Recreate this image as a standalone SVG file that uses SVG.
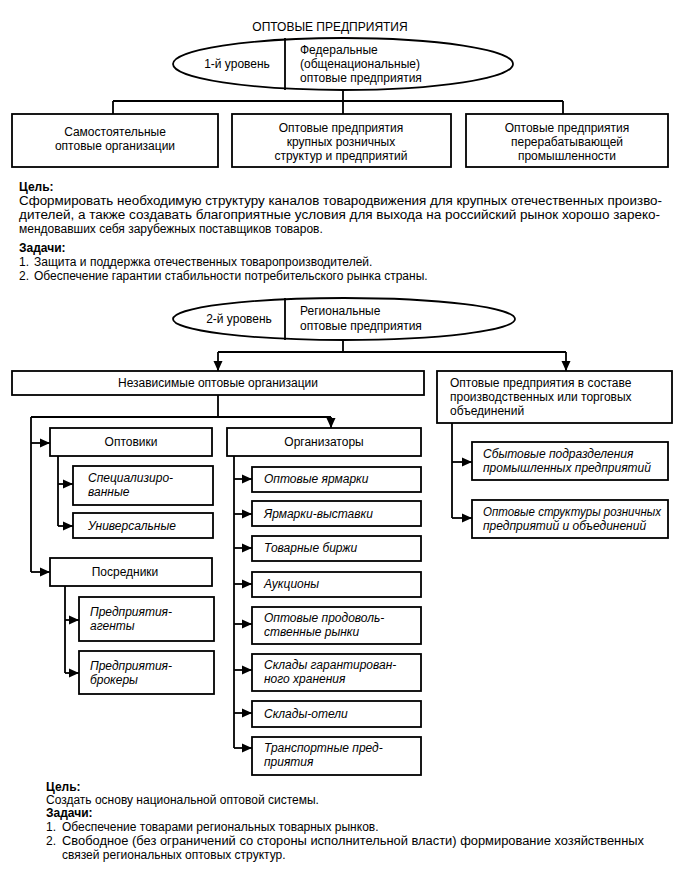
<svg xmlns="http://www.w3.org/2000/svg" width="688" height="872" viewBox="0 0 688 872">
<defs>
<style>
text{font-family:"Liberation Sans",Arial,sans-serif;font-size:12px;fill:#000}
.c{text-anchor:middle}
.i{font-style:italic}
.b{font-weight:bold}
.box{fill:#fff;stroke:#000;stroke-width:1.8}
.ell{fill:#fff;stroke:#000;stroke-width:1.8}
.ln{fill:none;stroke:#000;stroke-width:1.8}
.ar{fill:none;stroke:#000;stroke-width:1.8;marker-end:url(#ah)}
</style>
<marker id="ah" markerUnits="userSpaceOnUse" markerWidth="10" markerHeight="10" viewBox="0 0 10 10" refX="10" refY="5" orient="auto">
<path d="M0,0.5 L10,5 L0,9.5 Z" fill="#000"/>
</marker>
</defs>
<rect width="688" height="872" fill="#fff"/>

<text class="c" x="330" y="31">ОПТОВЫЕ ПРЕДПРИЯТИЯ</text>

<g id="connectors">
<path class="ln" d="M343,90 V101 M113,101 H563 M113,101 V114 M343,101 V114 M563,101 V114"/>
<path class="ln" d="M343,340 V352 M218,352 H566"/>
<path class="ar" d="M218,352 V371"/>
<path class="ar" d="M566,352 V371"/>
<path class="ln" d="M218,395 V417 M31,417 H331 M31,417 V572"/>
<path class="ar" d="M331,417 V428"/>
<path class="ar" d="M31,443 H50"/>
<path class="ar" d="M31,572 H50"/>
<path class="ln" d="M58,456 V526"/>
<path class="ar" d="M58,484 H73"/>
<path class="ar" d="M58,526 H73"/>
<path class="ln" d="M65,586 V673"/>
<path class="ar" d="M65,620 H79"/>
<path class="ar" d="M65,673 H79"/>
<path class="ln" d="M234,456 V748"/>
<path class="ar" d="M234,479 H252"/>
<path class="ar" d="M234,514 H252"/>
<path class="ar" d="M234,548 H252"/>
<path class="ar" d="M234,584 H252"/>
<path class="ar" d="M234,624 H252"/>
<path class="ar" d="M234,670 H252"/>
<path class="ar" d="M234,713 H252"/>
<path class="ar" d="M234,748 H252"/>
<path class="ln" d="M452,423 V518"/>
<path class="ar" d="M452,462 H472"/>
<path class="ar" d="M452,518 H472"/>
</g>

<g id="level1">
<ellipse class="ell" cx="343" cy="64" rx="170" ry="26"/>
<line class="ln" x1="285" y1="38" x2="285" y2="90"/>
<text class="c" x="237" y="68">1-й уровень</text>
<text x="300" y="54">Федеральные</text>
<text x="300" y="68">(общенациональные)</text>
<text x="300" y="82">оптовые предприятия</text>
</g>

<g id="box-samost">
<rect class="box" x="12" y="114" width="206" height="53"/>
<text class="c" x="115" y="136">Самостоятельные</text>
<text class="c" x="115" y="150">оптовые организации</text>
</g>
<g id="box-krupnyh">
<rect class="box" x="232" y="114" width="219" height="53"/>
<text class="c" x="341" y="132">Оптовые предприятия</text>
<text class="c" x="341" y="146">крупных розничных</text>
<text class="c" x="341" y="160">структур и предприятий</text>
</g>
<g id="box-pererab">
<rect class="box" x="466" y="114" width="202" height="53"/>
<text class="c" x="567" y="132">Оптовые предприятия</text>
<text class="c" x="567" y="146">перерабатывающей</text>
<text class="c" x="567" y="160">промышленности</text>
</g>

<g id="goals1">
<text class="b" x="19" y="191">Цель:</text>
<text x="19" y="205" textLength="643" lengthAdjust="spacingAndGlyphs">Сформировать необходимую структуру каналов товародвижения для крупных отечественных произво-</text>
<text x="19" y="219" textLength="641" lengthAdjust="spacingAndGlyphs">дителей, а также создавать благоприятные условия для выхода на российский рынок хорошо зареко-</text>
<text x="19" y="233">мендовавших себя зарубежных поставщиков товаров.</text>
<text class="b" x="19" y="252">Задачи:</text>
<text x="19" y="266">1.</text><text x="34" y="266">Защита и поддержка отечественных товаропроизводителей.</text>
<text x="19" y="280">2.</text><text x="34" y="280">Обеспечение гарантии стабильности потребительского рынка страны.</text>
</g>

<g id="level2">
<ellipse class="ell" cx="344" cy="319" rx="171" ry="21"/>
<line class="ln" x1="285" y1="298" x2="285" y2="340"/>
<text class="c" x="239" y="323">2-й уровень</text>
<text x="300" y="315">Региональные</text>
<text x="300" y="330">оптовые предприятия</text>
</g>

<g id="box-nezav">
<rect class="box" x="12" y="371" width="412" height="24"/>
<text class="c" x="218" y="387">Независимые оптовые организации</text>
</g>
<g id="box-vsostave">
<rect class="box" x="437" y="371" width="235" height="52"/>
<text x="450" y="387">Оптовые предприятия в составе</text>
<text x="450" y="401">производственных или торговых</text>
<text x="450" y="415">объединений</text>
</g>

<g id="box-optoviki">
<rect class="box" x="50" y="428" width="162" height="28"/>
<text class="c" x="131" y="446">Оптовики</text>
</g>
<g id="box-organizatory">
<rect class="box" x="227" y="428" width="194" height="28"/>
<text class="c" x="324" y="446">Организаторы</text>
</g>
<g id="box-spec">
<rect class="box" x="73" y="466" width="140" height="39"/>
<text class="i" x="88" y="482">Специализиро-</text>
<text class="i" x="88" y="496">ванные</text>
</g>
<g id="box-univ">
<rect class="box" x="73" y="513" width="140" height="25"/>
<text class="i" x="88" y="530">Универсальные</text>
</g>
<g id="box-posredniki">
<rect class="box" x="50" y="558" width="162" height="28"/>
<text class="c" x="125" y="576">Посредники</text>
</g>
<g id="box-agenty">
<rect class="box" x="79" y="597" width="135" height="44"/>
<text class="i" x="90" y="616">Предприятия-</text>
<text class="i" x="90" y="630">агенты</text>
</g>
<g id="box-brokery">
<rect class="box" x="79" y="651" width="135" height="43"/>
<text class="i" x="90" y="670">Предприятия-</text>
<text class="i" x="90" y="684">брокеры</text>
</g>

<g id="box-yarmarki">
<rect class="box" x="252" y="467" width="169" height="25"/>
<text class="i" x="264" y="483">Оптовые ярмарки</text>
</g>
<g id="box-vystavki">
<rect class="box" x="252" y="501" width="169" height="25"/>
<text class="i" x="264" y="518">Ярмарки-выставки</text>
</g>
<g id="box-birzhi">
<rect class="box" x="252" y="536" width="169" height="25"/>
<text class="i" x="264" y="552">Товарные биржи</text>
</g>
<g id="box-aukciony">
<rect class="box" x="252" y="572" width="169" height="25"/>
<text class="i" x="264" y="588">Аукционы</text>
</g>
<g id="box-rynki">
<rect class="box" x="252" y="607" width="169" height="37"/>
<text class="i" x="264" y="622">Оптовые продоволь-</text>
<text class="i" x="264" y="636">ственные рынки</text>
</g>
<g id="box-sklady">
<rect class="box" x="252" y="654" width="169" height="37"/>
<text class="i" x="264" y="669">Склады гарантирован-</text>
<text class="i" x="264" y="683">ного хранения</text>
</g>
<g id="box-oteli">
<rect class="box" x="252" y="701" width="169" height="26"/>
<text class="i" x="264" y="718">Склады-отели</text>
</g>
<g id="box-transport">
<rect class="box" x="252" y="737" width="169" height="38"/>
<text class="i" x="264" y="752">Транспортные пред-</text>
<text class="i" x="264" y="766">приятия</text>
</g>

<g id="box-sbyt">
<rect class="box" x="472" y="442" width="196" height="38"/>
<text class="i" x="483" y="458">Сбытовые подразделения</text>
<text class="i" x="483" y="472">промышленных предприятий</text>
</g>
<g id="box-roznich">
<rect class="box" x="472" y="500" width="196" height="38"/>
<text class="i" x="483" y="516" textLength="178" lengthAdjust="spacingAndGlyphs">Оптовые структуры розничных</text>
<text class="i" x="483" y="530">предприятий и объединений</text>
</g>

<g id="goals2">
<text class="b" x="46" y="791">Цель:</text>
<text x="46" y="804">Создать основу национальной оптовой системы.</text>
<text class="b" x="46" y="817">Задачи:</text>
<text x="46" y="831">1.</text><text x="62" y="831">Обеспечение товарами региональных товарных рынков.</text>
<text x="46" y="845">2.</text><text x="62" y="845" textLength="582" lengthAdjust="spacingAndGlyphs">Свободное (без ограничений со стороны исполнительной власти) формирование хозяйственных</text>
<text x="62" y="859">связей региональных оптовых структур.</text>
</g>
</svg>
